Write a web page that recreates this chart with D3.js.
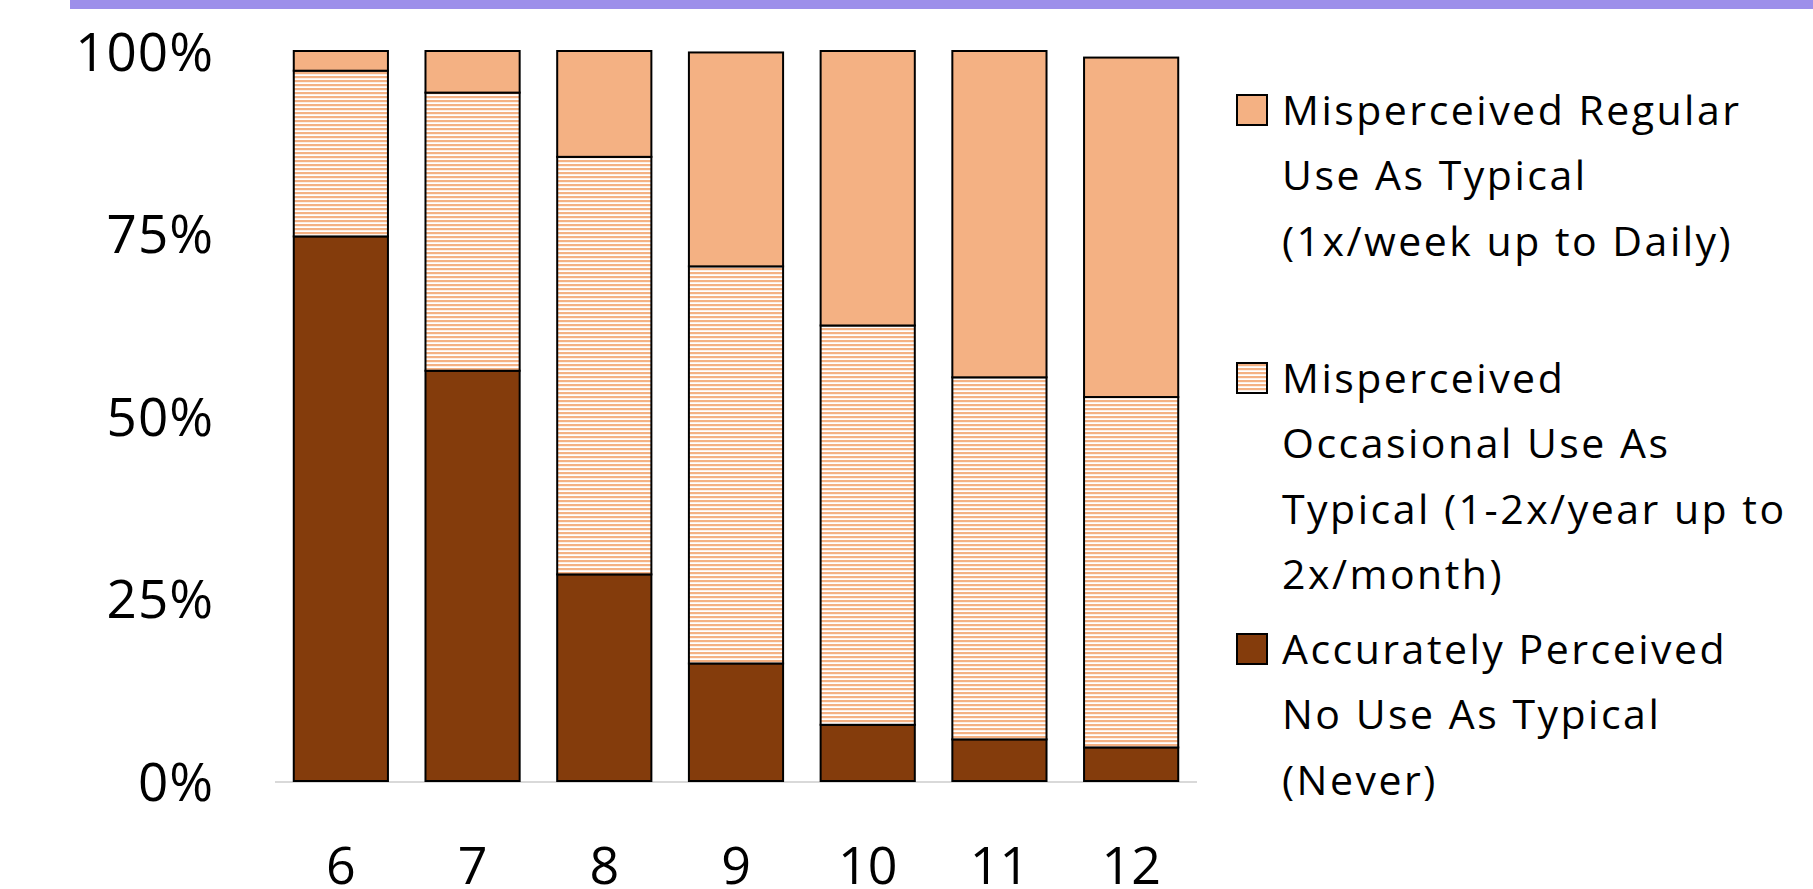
<!DOCTYPE html>
<html>
<head>
<meta charset="utf-8">
<script src="https://cdn.jsdelivr.net/npm/d3@7"></script>
<style>
  html, body { margin: 0; padding: 0; background: #fff; }
  svg { display: block; }
</style>
</head>
<body>
<svg id="chart" width="1813" height="889"></svg>
<script>
// Grades on the x axis
const grades = ["6", "7", "8", "9", "10", "11", "12"];
// Share of students in each perception group (percent)
const neverUse = [74.6, 56.2, 28.3, 16.1, 7.7, 5.7, 4.6];
const occasionalUse = [22.7, 38.1, 57.2, 54.4, 54.7, 49.6, 48.0];
const regularUse = [2.7, 5.7, 14.5, 29.3, 37.6, 44.7, 46.5];
// Y axis ticks
const yTicks = [0, 25, 50, 75, 100];
// Legend entries, top to bottom, each split into its display lines
const legendLines = [
  ["Misperceived Regular", "Use As Typical", "(1x/week up to Daily)"],
  ["Misperceived", "Occasional Use As", "Typical (1-2x/year up to", "2x/month)"],
  ["Accurately Perceived", "No Use As Typical", "(Never)"]
];

const svg = d3.select("#chart");
const font = "'Open Sans', sans-serif";
const lightOrange = "#F4B183";
const darkBrown = "#843C0C";

// Horizontal stripe fill for the occasional-use segments
const defs = svg.append("defs");
const pat = defs.append("pattern")
  .attr("id", "stripes")
  .attr("patternUnits", "userSpaceOnUse")
  .attr("width", 8).attr("height", 4);
pat.append("rect").attr("width", 8).attr("height", 4).attr("fill", "#fff");
pat.append("rect").attr("y", 0).attr("width", 8).attr("height", 2.2).attr("fill", lightOrange);

// Top accent band
svg.append("rect")
  .attr("x", 70).attr("y", 0)
  .attr("width", 1813 - 70).attr("height", 9)
  .attr("fill", "#9D8FEA");

const x = d3.scaleBand()
  .domain(grades)
  .range([275, 1197])
  .paddingInner(0.285)
  .paddingOuter(0.1425);

const y = d3.scaleLinear()
  .domain([0, 100])
  .range([781, 51]);

// Stack the three groups bottom-up
const rows = grades.map((g, i) => ({
  grade: g, never: neverUse[i], occasional: occasionalUse[i], regular: regularUse[i]
}));
const keys = ["never", "occasional", "regular"];
const fills = { never: darkBrown, occasional: "url(#stripes)", regular: lightOrange };
const series = d3.stack().keys(keys)(rows);

// Baseline
svg.append("line")
  .attr("x1", 275).attr("x2", 1197)
  .attr("y1", y(0) + 1).attr("y2", y(0) + 1)
  .attr("stroke", "#d9d9d9").attr("stroke-width", 2);

svg.append("g")
  .selectAll("g")
  .data(series)
  .join("g")
  .attr("fill", d => fills[d.key])
  .selectAll("rect")
  .data(d => d)
  .join("rect")
  .attr("x", d => x(d.data.grade))
  .attr("width", x.bandwidth())
  .attr("y", d => y(d[1]))
  .attr("height", d => y(d[0]) - y(d[1]))
  .attr("stroke", "#000")
  .attr("stroke-width", 2);

// Y axis labels
const yAxis = d3.axisLeft(y)
  .tickValues(yTicks)
  .tickFormat(d => d + "%")
  .tickSize(0)
  .tickPadding(0);
const yg = svg.append("g")
  .attr("transform", "translate(214,0)")
  .call(yAxis);
yg.select(".domain").remove();
yg.selectAll("text")
  .attr("font-family", font)
  .attr("font-size", 53)
  .attr("letter-spacing", 1)
  .attr("fill", "#000")
  .attr("dy", "0.36em");

// X axis labels
const xAxis = d3.axisBottom(x).tickSize(0).tickPadding(0);
const xg = svg.append("g")
  .attr("transform", "translate(0,865)")
  .call(xAxis);
xg.select(".domain").remove();
xg.selectAll("text")
  .attr("font-family", font)
  .attr("font-size", 52)
  .attr("fill", "#000")
  .attr("dy", "0.36em");

// Legend
const legendKeys = ["regular", "occasional", "never"];
const legendSwatchY = [110, 378, 649];
const lineGap = 65.5;
const legend = svg.append("g");
legendKeys.forEach((k, i) => {
  const cy = legendSwatchY[i];
  legend.append("rect")
    .attr("x", 1237).attr("y", cy - 15)
    .attr("width", 30).attr("height", 30)
    .attr("fill", fills[k])
    .attr("stroke", "#000").attr("stroke-width", 2);
  const t = legend.append("text")
    .attr("font-family", font)
    .attr("font-size", 41)
    .attr("letter-spacing", 2.5)
    .attr("fill", "#000");
  legendLines[i].forEach((line, j) => {
    t.append("tspan")
      .attr("x", 1282)
      .attr("y", cy + j * lineGap)
      .attr("dy", "0.36em")
      .text(line);
  });
});
</script>
</body>
</html>
